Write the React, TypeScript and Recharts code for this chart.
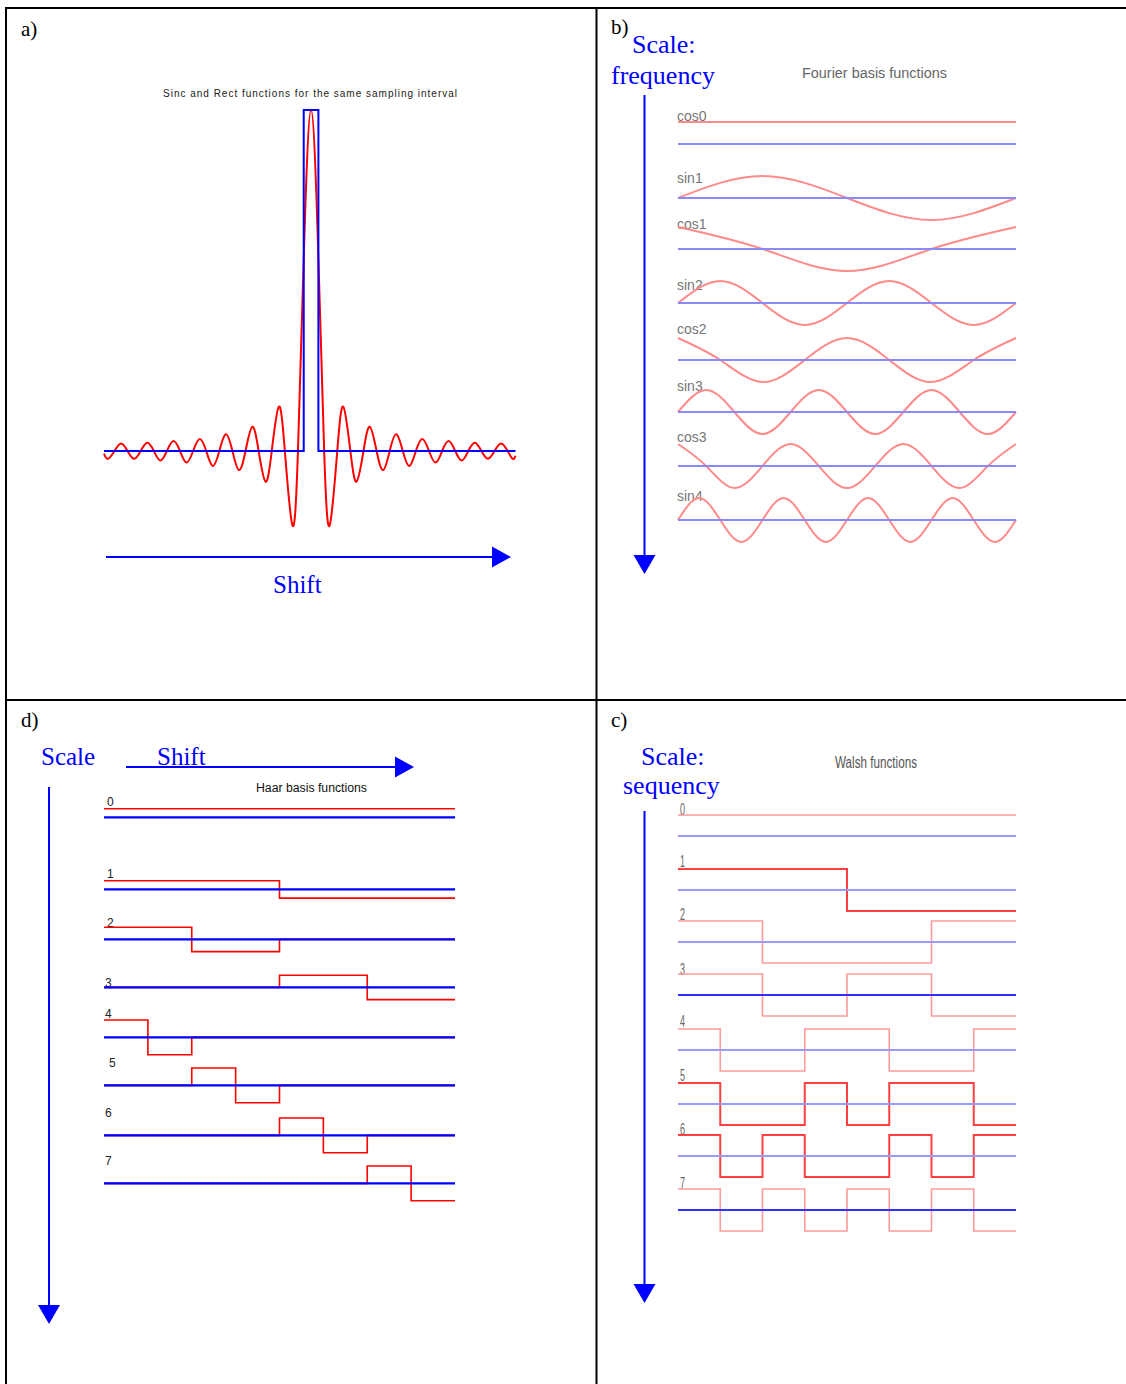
import { LineChart, Line, XAxis, YAxis } from "recharts";

// a) sinc and rect, x in sampling intervals
const sincX = [
  -15.8, -15.5, -15, -14.5, -14, -13.5, -13, -12.5, -12, -11.5, -11, -10.5, -10, -9.5, -9, -8.5, -8,
  -7.5, -7, -6.5, -6, -5.5, -5, -4.48, -4, -3.47, -3, -2.46, -2, -1.43, -1, -0.5, 0,
  0.5, 1, 1.43, 2, 2.46, 3, 3.47, 4, 4.48, 5, 5.5, 6, 6.5, 7, 7.5, 8, 8.5, 9, 9.5, 10,
  10.5, 11, 11.5, 12, 12.5, 13, 13.5, 14, 14.5, 15, 15.4, 15.6,
];
const sincY = [
  -0.008, -0.023, 0, 0.022, 0, -0.023, 0, 0.024, 0, -0.028, 0, 0.029, 0, -0.034, 0, 0.035, 0,
  -0.044, 0, 0.049, 0, -0.056, 0, 0.071, 0, -0.09, 0, 0.13, 0, -0.217, 0, 0.64, 1,
  0.64, 0, -0.217, 0, 0.13, 0, -0.09, 0, 0.071, 0, -0.056, 0, 0.049, 0, -0.044, 0, 0.035, 0, -0.034, 0,
  0.029, 0, -0.028, 0, 0.024, 0, -0.023, 0, 0.022, 0, -0.023, -0.014,
];
const rectX = [-15.8, -0.56, -0.56, 0.56, 0.56, 15.6];
const rectY = [0, 0, 1, 1, 0, 0];

// b) Fourier basis, values at quarter periods
const fourierLabels = ["cos0", "sin1", "cos1", "sin2", "cos2", "sin3", "cos3", "sin4"];
const fourierValues = [
  [1, 1],
  [0, 1, 0, -1, 0],
  [1, 0, -1, 0, 1],
  [0, 1, 0, -1, 0, 1, 0, -1, 0],
  [1, 0, -1, 0, 1, 0, -1, 0, 1],
  [0, 1, 0, -1, 0, 1, 0, -1, 0, 1, 0, -1, 0],
  [1, 0, -1, 0, 1, 0, -1, 0, 1, 0, -1, 0, 1],
  [0, 1, 0, -1, 0, 1, 0, -1, 0, 1, 0, -1, 0, 1, 0, -1, 0],
];

// d) Haar basis, one value per eighth
const haarLabels = ["0", "1", "2", "3", "4", "5", "6", "7"];
const haarValues = [
  [1, 1, 1, 1, 1, 1, 1, 1],
  [1, 1, 1, 1, -1, -1, -1, -1],
  [1.4, 1.4, -1.4, -1.4, 0, 0, 0, 0],
  [0, 0, 0, 0, 1.4, 1.4, -1.4, -1.4],
  [2, -2, 0, 0, 0, 0, 0, 0],
  [0, 0, 2, -2, 0, 0, 0, 0],
  [0, 0, 0, 0, 2, -2, 0, 0],
  [0, 0, 0, 0, 0, 0, 2, -2],
];

// c) Walsh functions in sequency order
const walshLabels = ["0", "1", "2", "3", "4", "5", "6", "7"];
const walshValues = [
  [1, 1, 1, 1, 1, 1, 1, 1],
  [1, 1, 1, 1, -1, -1, -1, -1],
  [1, 1, -1, -1, -1, -1, 1, 1],
  [1, 1, -1, -1, 1, 1, -1, -1],
  [1, -1, -1, 1, 1, -1, -1, 1],
  [1, -1, -1, 1, -1, 1, 1, -1],
  [1, -1, 1, -1, -1, 1, -1, 1],
  [1, -1, 1, -1, 1, -1, 1, -1],
];

// layout
const fourierBase = [144, 198, 249, 303, 360, 412, 466, 520];
const fourierLabelY = [121, 183, 229, 290, 334, 391, 442, 501];
const haarBase = [817, 889, 939, 987, 1037, 1085, 1135, 1183];
const haarLabelX = [107, 107, 107, 105, 105, 109, 105, 105];
const haarLabelY = [806, 878, 927, 987, 1018, 1067, 1117, 1165];
const walshBase = [836, 890, 942, 995, 1050, 1104, 1156, 1210];
const walshLabelY = [815, 867, 920, 975, 1027, 1081, 1135, 1189];
const walshStrongRed = [false, true, false, false, false, true, true, false];
const walshStrongBlue = [false, false, false, true, false, false, false, true];

const SERIF = "'Liberation Serif', 'Times New Roman', serif";
const SANS = "'Liberation Sans', Arial, sans-serif";
const BLUE = "#0000ff";

type RowProps = {
  x0: number;
  x1: number;
  baseline: number;
  pxPerUnit: number;
  maxAbs: number;
  values: number[];
  curve: "natural" | "stepAfter";
  red: string;
  redWidth: number;
  blue: string;
  blueWidth: number;
};

function BasisRow(p: RowProps) {
  const pad = 4;
  const h = 2 * p.maxAbs * p.pxPerUnit + 2 * pad;
  const w = p.x1 - p.x0 + 2 * pad;
  const step = p.curve === "stepAfter";
  const vals = step ? [...p.values, p.values[p.values.length - 1]] : p.values;
  const data = vals.map((v, i) => ({ x: i, v }));
  const xMax = vals.length - 1;
  const zero = [
    { x: 0, v: 0 },
    { x: xMax, v: 0 },
  ];
  return (
    <div style={{ position: "absolute", left: p.x0 - pad, top: p.baseline - h / 2 }}>
      <LineChart width={w} height={h} margin={{ top: pad, right: pad, bottom: pad, left: pad }}>
        <XAxis type="number" dataKey="x" domain={[0, xMax]} hide />
        <YAxis type="number" domain={[-p.maxAbs, p.maxAbs]} hide />
        <Line
          data={data}
          dataKey="v"
          type={p.curve}
          stroke={p.red}
          strokeWidth={p.redWidth}
          dot={false}
          isAnimationActive={false}
        />
        <Line
          data={zero}
          dataKey="v"
          type="linear"
          stroke={p.blue}
          strokeWidth={p.blueWidth}
          dot={false}
          isAnimationActive={false}
        />
      </LineChart>
    </div>
  );
}

function SincChart() {
  const pad = 4;
  const left = 103.5;
  const right = 515;
  const top = 110;
  const unit = 341;
  const yMin = -0.25;
  const h = (1 - yMin) * unit + 2 * pad;
  const sinc = sincX.map((x, i) => ({ x, v: sincY[i] }));
  const rect = rectX.map((x, i) => ({ x, v: rectY[i] }));
  return (
    <div style={{ position: "absolute", left: left - pad, top: top - pad }}>
      <LineChart
        width={right - left + 2 * pad}
        height={h}
        margin={{ top: pad, right: pad, bottom: pad, left: pad }}
      >
        <XAxis type="number" dataKey="x" domain={[-15.8, 15.6]} hide />
        <YAxis type="number" domain={[yMin, 1]} hide />
        <Line data={sinc} dataKey="v" type="natural" stroke="#ff0000" strokeWidth={2} dot={false} isAnimationActive={false} />
        <Line data={rect} dataKey="v" type="linear" stroke={BLUE} strokeWidth={2} dot={false} isAnimationActive={false} />
      </LineChart>
    </div>
  );
}

function Overlay() {
  const txt = (s: string, x: number, y: number, size: number, fill: string, family = SERIF, extra: any = {}) => (
    <text x={x} y={y} fontSize={size} fill={fill} fontFamily={family} {...extra}>
      {s}
    </text>
  );
  const hArrow = (x0: number, x1: number, y: number) => (
    <g>
      <line x1={x0} y1={y} x2={x1 - 18} y2={y} stroke={BLUE} strokeWidth={2} />
      <polygon points={`${x1 - 19},${y - 10.5} ${x1},${y} ${x1 - 19},${y + 10.5}`} fill={BLUE} />
    </g>
  );
  const vArrow = (x: number, y0: number, y1: number) => (
    <g>
      <line x1={x} y1={y0} x2={x} y2={y1 - 18} stroke={BLUE} strokeWidth={2} />
      <polygon points={`${x - 11},${y1 - 19} ${x + 11},${y1 - 19} ${x},${y1}`} fill={BLUE} />
    </g>
  );
  return (
    <svg width={1126} height={1384} style={{ position: "absolute", left: 0, top: 0 }}>
      <line x1={5} y1={8} x2={1126} y2={8} stroke="#000" strokeWidth={2} />
      <line x1={6} y1={7} x2={6} y2={1384} stroke="#000" strokeWidth={2} />
      <line x1={596.5} y1={7} x2={596.5} y2={1384} stroke="#000" strokeWidth={2} />
      <line x1={5} y1={700} x2={1126} y2={700} stroke="#000" strokeWidth={2} />

      {txt("a)", 21, 36, 21, "#000")}
      {txt("b)", 611, 34, 21, "#000")}
      {txt("d)", 21, 727, 21, "#000")}
      {txt("c)", 611, 727, 21, "#000")}

      {txt("Sinc and Rect functions for the same sampling interval", 163, 97, 10, "#222", SANS, {
        textLength: 294,
        lengthAdjust: "spacing",
      })}
      {hArrow(106, 511, 557)}
      {txt("Shift", 273, 593, 25, BLUE)}

      {txt("Scale:", 632, 53, 26, BLUE)}
      {txt("frequency", 611, 84, 26, BLUE)}
      {txt("Fourier basis functions", 802, 78, 14, "#666", SANS, {
        textLength: 145,
        lengthAdjust: "spacingAndGlyphs",
      })}
      {vArrow(644.5, 95, 574)}
      {fourierLabels.map((l, i) => (
        <g key={l}>{txt(l, 677, fourierLabelY[i], 14, "#777", SANS)}</g>
      ))}

      {txt("Scale", 41, 765, 25, BLUE)}
      {txt("Shift", 157, 765, 25, BLUE)}
      {hArrow(126, 414, 767)}
      {vArrow(49, 787, 1324)}
      {txt("Haar basis functions", 256, 792, 12.5, "#111", SANS, {
        textLength: 111,
        lengthAdjust: "spacingAndGlyphs",
      })}
      {haarLabels.map((l, i) => (
        <g key={"h" + l}>{txt(l, haarLabelX[i], haarLabelY[i], 12, "#222", SANS)}</g>
      ))}

      {txt("Scale:", 641, 765, 26, BLUE)}
      {txt("sequency", 623, 794, 26, BLUE)}
      {txt("Walsh functions", 835, 768, 16, "#555", SANS, {
        textLength: 82,
        lengthAdjust: "spacingAndGlyphs",
      })}
      {vArrow(644.5, 811, 1303)}
      {walshLabels.map((l, i) => (
        <g key={"w" + l}>
          {txt(l, 680, walshLabelY[i], 17, "#666", SANS, { textLength: 5, lengthAdjust: "spacingAndGlyphs" })}
        </g>
      ))}
    </svg>
  );
}

export default function App() {
  return (
    <div
      style={{
        position: "absolute",
        left: 0,
        top: 0,
        width: 1126,
        height: 1384,
        background: "#fff",
        overflow: "hidden",
      }}
    >
      <Overlay />
      <SincChart />
      {fourierValues.map((vals, i) => (
        <BasisRow
          key={"f" + i}
          x0={678}
          x1={1016}
          baseline={fourierBase[i]}
          pxPerUnit={22}
          maxAbs={1}
          values={vals}
          curve="natural"
          red="#ff8a8a"
          redWidth={2}
          blue="#8a8aff"
          blueWidth={2}
        />
      ))}
      {haarValues.map((vals, i) => (
        <BasisRow
          key={"h" + i}
          x0={104}
          x1={455}
          baseline={haarBase[i]}
          pxPerUnit={8.7}
          maxAbs={2}
          values={vals}
          curve="stepAfter"
          red="#ff0000"
          redWidth={1.6}
          blue="#0000ff"
          blueWidth={2.2}
        />
      ))}
      {walshValues.map((vals, i) => (
        <BasisRow
          key={"w" + i}
          x0={678}
          x1={1016}
          baseline={walshBase[i]}
          pxPerUnit={21}
          maxAbs={1}
          values={vals}
          curve="stepAfter"
          red={walshStrongRed[i] ? "#ff4040" : "#ff9a9a"}
          redWidth={walshStrongRed[i] ? 2 : 1.6}
          blue={walshStrongBlue[i] ? "#3030ff" : "#9a9aff"}
          blueWidth={walshStrongBlue[i] ? 2.2 : 1.8}
        />
      ))}
    </div>
  );
}
